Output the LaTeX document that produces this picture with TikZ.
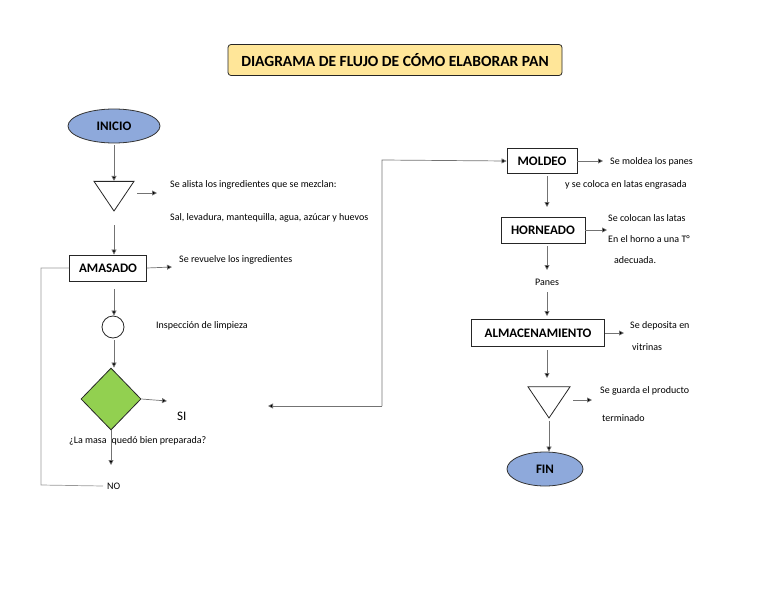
\documentclass[tikz,border=0pt]{standalone}
\usepackage{fontspec}
\setmainfont{Carlito}
\usetikzlibrary{shapes.geometric,arrows.meta}
\begin{document}
\begin{tikzpicture}[x=1pt,y=-1pt,
 box/.style={draw=black!85,line width=0.8pt,minimum height=26pt,font=\bfseries\fontsize{13}{15}\selectfont,inner sep=3pt},
 oval/.style={ellipse,draw=black!80,line width=0.8pt,fill={rgb,255:red,142;green,169;blue,219},font=\bfseries\fontsize{13}{15}\selectfont,inner sep=1pt},
 tri/.style={isosceles triangle,shape border rotate=-90,isosceles triangle apex angle=68,draw=black!85,line width=0.8pt,minimum width=40pt,inner sep=0pt},
 ar/.style={draw=black!55,line width=0.7pt,-{Triangle[length=5pt,width=5pt,fill=black]}},
 ln/.style={draw=black!40,line width=0.7pt},
 t/.style={font=\fontsize{10}{12}\selectfont,anchor=west,inner sep=0pt}]
\useasboundingbox (0,0) rectangle (768,594);
\node[draw=black!85,line width=0.8pt,rounded corners=3pt,fill={rgb,255:red,255;green,230;blue,153},minimum width=334pt,minimum height=31pt,font=\bfseries\fontsize{15.5}{18}\selectfont] (title) at (395,60) {DIAGRAMA DE FLUJO DE CÓMO ELABORAR PAN};
% left column
\node[oval,minimum width=92pt,minimum height=34pt] (ini) at (114,126) {INICIO};
\node[tri] (t1) at (114,192) {};
\node[box,minimum width=77pt] (ama) at (108,268) {AMASADO};
\node[circle,draw=black!85,line width=0.8pt,minimum size=22pt,inner sep=0pt] (c1) at (113,327) {};
\node[diamond,draw=black!85,line width=0.8pt,fill={rgb,255:red,146;green,208;blue,80},minimum width=60pt,minimum height=62pt,inner sep=0pt] (d1) at (111,399) {};
\draw[ar] (114,145) -- (t1.north);
\coordinate (a1) at (114,225);
\draw[ar] (a1) -- (ama.north -| a1);
\draw[ar] (114,289) -- (c1.north -| 114,0);
\draw[ar] (114,340) -- (d1.north -| 114,0);
\coordinate (t1e) at (137,193); \coordinate (t1f) at (157,193);
\draw[ar] (t1e) -- (t1f);
\node[t] (x1) at (170,185) {Se alista los ingredientes que se mezclan:};
\node[t] (x2) at (170,218) {Sal, levadura, mantequilla, agua, azúcar y huevos};
\coordinate (am2) at (172,267);
\draw[ar] (ama.east) -- (am2);
\node[t] (x3) at (179,260) {Se revuelve los ingredientes};
\node[t] (x4) at (156,326) {Inspección de limpieza};
\coordinate (si1) at (167,401);
\draw[ar] (d1.east) -- (si1);
\node[anchor=west,inner sep=0pt,font=\fontsize{13}{15}\selectfont] (si) at (177,416) {SI};
\node[t] (q) at (69,441) {¿La masa\,\,\,quedó bien preparada?};
\coordinate (no1) at (111,465);
\draw[ar] (d1.south) -- (no1);
\node[t] (no) at (107,486) {NO};
\coordinate (l1) at (41,485); \coordinate (l2) at (41,268);
\draw[ln] (no.west) ++(-4,0) -- (l1) -- (l2) -- (ama.west);
% connector to right
\node[box,minimum width=70pt,minimum height=25pt] (mol) at (542,161) {MOLDEO};
\coordinate (r1) at (268,406); \coordinate (r2) at (382,406); \coordinate (r3) at (382,160);
\draw[ar] (r2) -- (r1);
\draw[ar] (r2) -- (r3) -- (mol.west);
% right column
\node[box,minimum width=84pt] (hor) at (543,230) {HORNEADO};
\node[box,minimum width=133pt,minimum height=27pt] (alm) at (538,333) {ALMACENAMIENTO};
\node[tri,minimum width=42pt] (t2) at (549,398) {};
\node[oval,minimum width=76pt,minimum height=34pt] (fin) at (545,469) {FIN};
\coordinate (m2) at (603,161);
\draw[ar] (mol.east) -- (m2);
\node[t] (y1) at (610,162) {Se moldea los panes};
\node[t] (y2) at (565,185) {y se coloca en latas engrasada};
\draw[ar] (547,176) -- (547,207);
\coordinate (h2) at (607,230);
\draw[ar] (hor.east) -- (h2);
\node[t] (y3) at (608,218) {Se colocan las latas};
\node[t] (y4) at (608,239) {En el horno a una T°};
\node[t] (y5) at (614,260) {adecuada.};
\coordinate (p1) at (547,270);
\draw[ar] (547,246) -- (p1);
\node[font=\fontsize{10}{12}\selectfont,inner sep=0pt] (panes) at (547,282) {Panes};
\draw[ar] (547,292) -- (547,316);
\coordinate (al2) at (624,333);
\draw[ar] (alm.east) -- (al2);
\node[t] (y6) at (630,326) {Se deposita en};
\node[t] (y7) at (632,347) {vitrinas};
\draw[ar] (547,350) -- (547,378);
\coordinate (t2e) at (573,400); \coordinate (t2f) at (592,400);
\draw[ar] (t2e) -- (t2f);
\node[t] (y8) at (600,391) {Se guarda el producto};
\node[t] (y9) at (602,418) {terminado};
\draw[ar] (549,421) -- (fin.north -| 549,0);
\end{tikzpicture}
\end{document}
